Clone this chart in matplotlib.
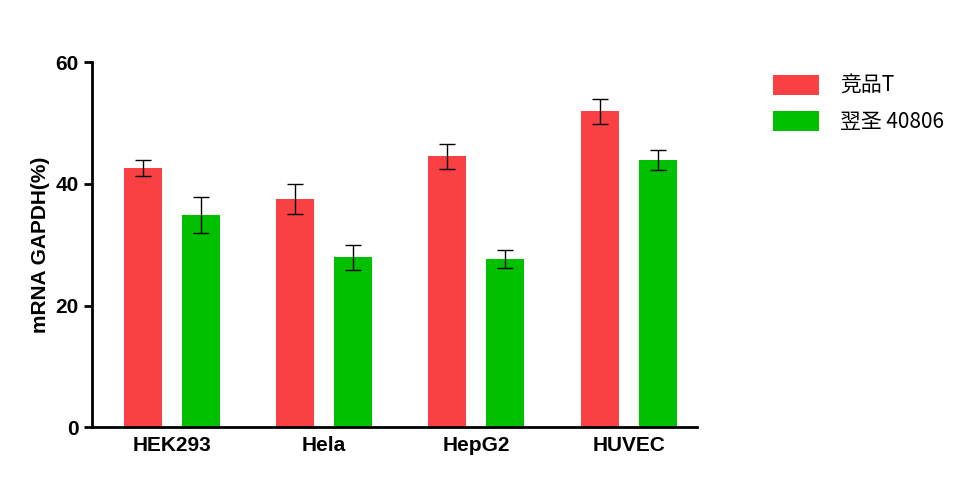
import numpy as np
import matplotlib.pyplot as plt

plt.rcParams['font.family'] = ['Noto Sans CJK SC', 'DejaVu Sans']

cells = ['HEK293', 'Hela', 'HepG2', 'HUVEC']
series = ['竞品T', '翌圣 40806']
comp_vals = [42.6, 37.5, 44.5, 51.9]
comp_err = [1.3, 2.4, 2.0, 2.0]
ys_vals = [34.9, 27.9, 27.6, 43.9]
ys_err = [3.0, 2.0, 1.5, 1.7]

fig = plt.figure(figsize=(9.67, 4.86), dpi=100)
ax = fig.add_axes([0.095, 0.121, 0.626, 0.751])
x = np.arange(len(cells))
w = 0.25
ekw = dict(capsize=6, ecolor='black', error_kw=dict(elinewidth=1, capthick=1))
ax.bar(x - 0.19, comp_vals, w, yerr=comp_err, color='#F94144', label=series[0], **ekw)
ax.bar(x + 0.19, ys_vals, w, yerr=ys_err, color='#00C000', label=series[1], **ekw)

ax.set_xlim(-0.525, 3.45)
ax.set_ylim(0, 60)
ax.set_yticks([0, 20, 40, 60])
ax.set_xticks(x)
ax.set_xticklabels(cells, fontweight='bold', fontsize=15, family='Liberation Sans')
for t in ax.get_yticklabels():
    t.set_fontweight('bold'); t.set_fontsize(15); t.set_family('Liberation Sans')
ax.set_ylabel('mRNA GAPDH(%)', fontweight='bold', fontsize=15, family='Liberation Sans')
for s in ['top', 'right']:
    ax.spines[s].set_visible(False)
for s in ['left', 'bottom']:
    ax.spines[s].set_linewidth(2)
ax.tick_params(width=2, length=6, direction='out')
ax.tick_params(axis='x', length=0, pad=6)

fig.legend(loc='upper left', bbox_to_anchor=(0.78, 0.885), frameon=False,
           fontsize=15, handlelength=2.2, handleheight=1.1, labelspacing=0.7,
           handletextpad=1.0)
fig.savefig('out.png')
